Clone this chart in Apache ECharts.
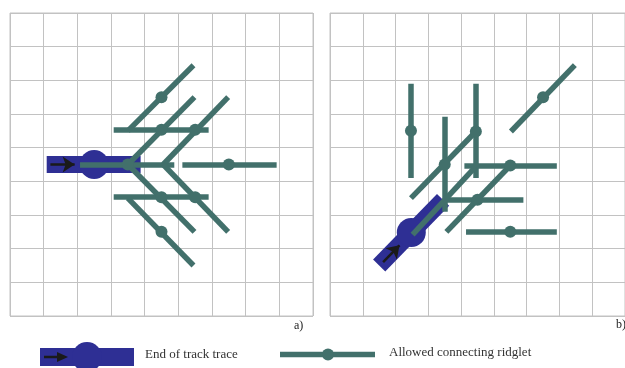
<!DOCTYPE html>
<html>
<head>
<meta charset="utf-8">
<script src="https://cdn.jsdelivr.net/npm/echarts@6/dist/echarts.min.js"></script>
<style>
html,body{margin:0;padding:0;background:#fff;}
#chart{width:625px;height:368px;}
</style>
</head>
<body>
<div id="chart"></div>
<script>
// ---- data (grid units, y counted downward) ----
const gridMin = 0, gridMax = 9, gridStep = 1;

// panel a)
const aTrack = [[1.09, 4.5], [3.88, 4.5]];
const aTrackEnd = [[2.5, 4.5]];
const aArrow = [[1.2, 4.5], [1.92, 4.5]];
const aRidglets = [
  [2.08, 4.5, 4.88, 4.5],
  [5.12, 4.5, 7.92, 4.5],
  [3.5, 3.5, 5.45, 1.55],
  [3.5, 4.5, 5.48, 2.5],
  [4.55, 4.5, 6.48, 2.5],
  [3.08, 3.47, 5.9, 3.47],
  [3.5, 5.5, 5.45, 7.5],
  [3.5, 4.5, 5.48, 6.5],
  [4.55, 4.5, 6.48, 6.5],
  [3.08, 5.47, 5.9, 5.47]
];
const aDots = [[3.5, 4.5], [6.5, 4.5], [4.5, 2.5], [4.5, 3.47], [5.5, 3.47], [4.5, 6.5], [4.5, 5.47], [5.5, 5.47]];

// panel b)
const bTrack = [[1.5, 7.5], [3.45, 5.55]];
const bTrackEnd = [[2.48, 6.52]];
const bArrow = [[1.62, 7.4], [2.12, 6.9]];
const bRidglets = [
  [2.47, 2.1, 2.47, 4.9],
  [4.45, 2.1, 4.45, 4.9],
  [3.5, 3.08, 3.5, 5.9],
  [2.47, 5.5, 4.45, 3.52],
  [5.52, 3.52, 7.47, 1.55],
  [4.1, 4.53, 6.92, 4.53],
  [3.55, 6.5, 5.5, 4.53],
  [3.55, 5.55, 5.9, 5.55],
  [4.15, 6.5, 6.92, 6.5],
  [2.52, 6.58, 4.43, 4.58]
];
const bDots = [[2.47, 3.5], [4.45, 3.52], [3.5, 4.5], [6.5, 2.5], [5.5, 4.53], [4.5, 5.55], [5.5, 6.5]];

const panelLabels = ['a)', 'b)'];
const legendLabels = ['End of track trace', 'Allowed connecting ridglet'];

// ---- styles ----
const GREEN = '#42706b';
const BLUE = '#2e2f94';
const GRIDC = '#c2c2c2';

function axis(idx, isY) {
  return {
    type: 'value', gridIndex: idx, min: gridMin, max: gridMax, interval: gridStep,
    inverse: !!isY,
    axisLabel: {show: false}, axisTick: {show: false}, axisLine: {show: false},
    splitLine: {show: true, lineStyle: {color: GRIDC, width: 1}}
  };
}

function panelSeries(idx, track, trackEnd, arrow, ridglets, dots) {
  return [
    {
      type: 'lines', coordinateSystem: 'cartesian2d', xAxisIndex: idx, yAxisIndex: idx,
      z: 2, silent: true,
      lineStyle: {color: BLUE, width: 17, opacity: 1, cap: 'butt'},
      data: [{coords: track}]
    },
    {
      type: 'scatter', xAxisIndex: idx, yAxisIndex: idx, z: 2, silent: true,
      symbolSize: 29, itemStyle: {color: BLUE, opacity: 1},
      data: trackEnd
    },
    {
      type: 'lines', coordinateSystem: 'cartesian2d', xAxisIndex: idx, yAxisIndex: idx,
      z: 3, silent: true,
      symbol: ['none', 'arrow'], symbolSize: 12,
      lineStyle: {color: '#1a1a1a', width: 2.5, opacity: 1},
      data: [{coords: arrow}]
    },
    {
      type: 'lines', coordinateSystem: 'cartesian2d', xAxisIndex: idx, yAxisIndex: idx,
      z: 4, silent: true,
      lineStyle: {color: GREEN, width: 5.5, opacity: 1, cap: 'butt'},
      data: ridglets.map(r => ({coords: [[r[0], r[1]], [r[2], r[3]]]}))
    },
    {
      type: 'scatter', xAxisIndex: idx, yAxisIndex: idx, z: 5, silent: true,
      symbolSize: 12, itemStyle: {color: GREEN, opacity: 1},
      data: dots
    }
  ];
}

const chart = echarts.init(document.getElementById('chart'), null, {renderer: 'canvas'});
chart.setOption({
  animation: false,
  backgroundColor: '#ffffff',
  grid: [
    {left: 10, top: 13, width: 303, height: 303, show: true, borderColor: GRIDC, borderWidth: 1, containLabel: false},
    {left: 330, top: 13, width: 303.3, height: 303, show: true, borderColor: GRIDC, borderWidth: 1, containLabel: false}
  ],
  xAxis: [axis(0, false), axis(1, false)],
  yAxis: [axis(0, true), axis(1, true)],
  series: [].concat(
    panelSeries(0, aTrack, aTrackEnd, aArrow, aRidglets, aDots),
    panelSeries(1, bTrack, bTrackEnd, bArrow, bRidglets, bDots)
  ),
  graphic: [
    {type: 'text', left: 294, top: 320, style: {text: panelLabels[0], font: '12px "Liberation Serif"', fill: '#222'}},
    {type: 'text', left: 616, top: 319, style: {text: panelLabels[1], font: '12px "Liberation Serif"', fill: '#222'}},
    // legend: track
    {type: 'rect', shape: {x: 40, y: 348, width: 94, height: 18}, style: {fill: BLUE}},
    {type: 'circle', shape: {cx: 87, cy: 357, r: 15}, style: {fill: BLUE}},
    {type: 'line', shape: {x1: 44, y1: 357, x2: 59, y2: 357}, style: {stroke: '#1a1a1a', lineWidth: 2.5}},
    {type: 'polygon', shape: {points: [[57, 352], [68, 357], [57, 362]]}, style: {fill: '#1a1a1a'}},
    {type: 'text', left: 145, top: 348, style: {text: legendLabels[0], font: '13px "Liberation Serif"', fill: '#333'}},
    // legend: ridglet
    {type: 'line', shape: {x1: 280, y1: 354.5, x2: 375, y2: 354.5}, style: {stroke: GREEN, lineWidth: 5.5}},
    {type: 'circle', shape: {cx: 328, cy: 354.5, r: 6}, style: {fill: GREEN}},
    {type: 'text', left: 389, top: 346, style: {text: legendLabels[1], font: '13px "Liberation Serif"', fill: '#333'}}
  ]
});
</script>
</body>
</html>
